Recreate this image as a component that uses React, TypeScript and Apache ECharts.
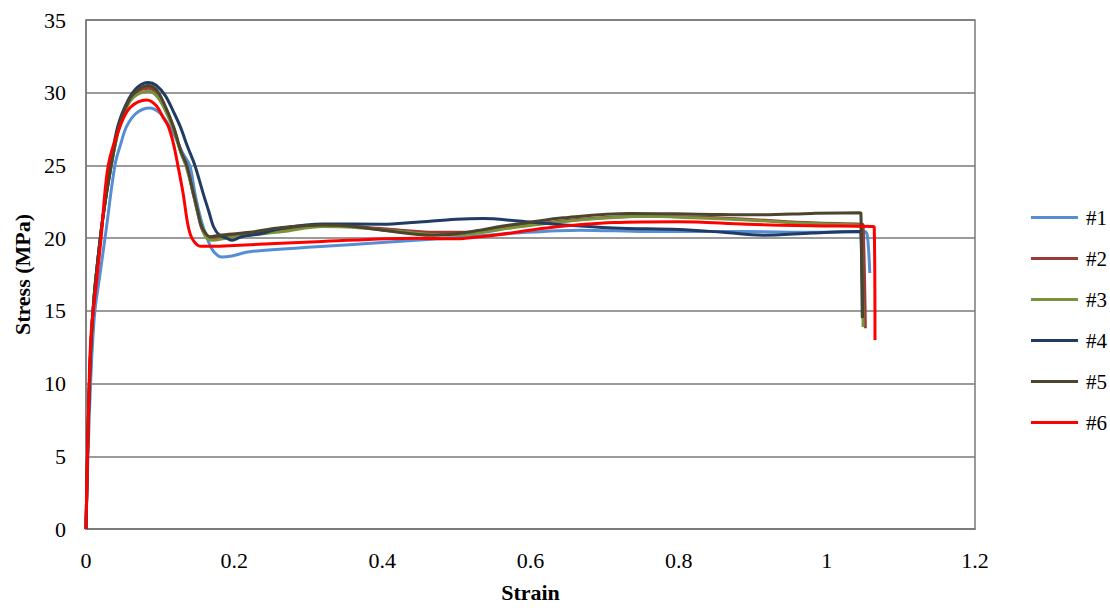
import React, { useEffect, useRef } from "react";
import * as echarts from "echarts";

// Stress–strain curves of six specimens: [strain, stress (MPa)]
const specimen1: [number, number][] = [
  [0, 0], [0.002, 4], [0.005, 8.5], [0.008, 12], [0.012, 15], [0.018, 17.2], [0.027, 20.5],
  [0.039, 25], [0.047, 26.5], [0.055, 27.7], [0.068, 28.6], [0.086, 28.95], [0.1, 28.6],
  [0.11, 27.9], [0.12, 27.0], [0.13, 25.9], [0.14, 25.0], [0.147, 23.1], [0.153, 21.7],
  [0.158, 20.8], [0.165, 19.8], [0.172, 19.1], [0.183, 18.7], [0.195, 18.75], [0.221, 19.07],
  [0.311, 19.4], [0.4, 19.7], [0.49, 20.0], [0.58, 20.35], [0.667, 20.55], [0.757, 20.45],
  [0.892, 20.45], [0.98, 20.4], [1.05, 20.45], [1.054, 20.3], [1.056, 19.5], [1.058, 17.6],
];

const specimen2: [number, number][] = [
  [0, 0], [0.002, 5], [0.004, 9], [0.007, 13], [0.011, 16], [0.016, 18.5], [0.023, 21.5],
  [0.034, 25], [0.045, 27.7], [0.058, 29.4], [0.07, 30.1], [0.084, 30.3], [0.095, 30.0],
  [0.105, 29.1], [0.118, 27.6], [0.128, 25.9], [0.136, 24.9], [0.145, 23.0], [0.151, 21.7],
  [0.156, 20.7], [0.162, 20.15], [0.168, 20.0], [0.19, 20.1], [0.221, 20.3], [0.266, 20.55],
  [0.32, 20.85], [0.36, 20.8], [0.424, 20.55], [0.47, 20.4], [0.52, 20.4], [0.58, 20.8],
  [0.667, 21.3], [0.757, 21.5], [0.82, 21.45], [0.892, 21.3], [0.98, 21.05], [1.047, 20.95],
  [1.049, 20.9], [1.052, 13.8],
];

const specimen3: [number, number][] = [
  [0, 0], [0.002, 5], [0.004, 9], [0.007, 13], [0.011, 16], [0.016, 18.5], [0.023, 21.5],
  [0.034, 25], [0.045, 27.6], [0.058, 29.3], [0.07, 29.9], [0.084, 30.1], [0.095, 29.8],
  [0.106, 28.9], [0.118, 27.5], [0.128, 25.9], [0.136, 24.8], [0.145, 23.0], [0.151, 21.7],
  [0.157, 20.6], [0.163, 20.0], [0.17, 19.85], [0.19, 20.0], [0.221, 20.2], [0.266, 20.45],
  [0.32, 20.8], [0.36, 20.75], [0.424, 20.45], [0.49, 20.2], [0.53, 20.35], [0.58, 20.75],
  [0.667, 21.25], [0.757, 21.5], [0.82, 21.4], [0.892, 21.25], [0.98, 21.0], [1.044, 20.9],
  [1.046, 20.85], [1.049, 13.9],
];

const specimen4: [number, number][] = [
  [0, 0], [0.002, 5], [0.004, 9], [0.007, 13], [0.011, 16], [0.016, 18.5], [0.023, 21.5],
  [0.033, 25], [0.043, 27.7], [0.057, 29.5], [0.07, 30.4], [0.084, 30.7], [0.095, 30.5],
  [0.107, 29.8], [0.118, 28.7], [0.127, 27.7], [0.137, 26.3], [0.147, 25], [0.158, 23.1],
  [0.166, 21.8], [0.172, 20.8], [0.18, 20.2], [0.19, 20.0], [0.197, 19.85], [0.21, 20.1],
  [0.235, 20.3], [0.266, 20.7], [0.32, 20.98], [0.4, 20.95], [0.446, 21.1], [0.5, 21.3],
  [0.536, 21.35], [0.58, 21.2], [0.622, 21.0], [0.712, 20.7], [0.8, 20.6], [0.86, 20.4],
  [0.914, 20.2], [0.98, 20.35], [1.044, 20.45], [1.046, 20.4], [1.048, 14.6],
];

const specimen5: [number, number][] = [
  [0, 0], [0.002, 5], [0.004, 9], [0.007, 13], [0.011, 16], [0.016, 18.5], [0.023, 21.5],
  [0.034, 25], [0.045, 27.8], [0.058, 29.5], [0.07, 30.2], [0.084, 30.5], [0.095, 30.2],
  [0.105, 29.3], [0.118, 27.7], [0.128, 26.0], [0.136, 25], [0.145, 23.1], [0.151, 21.8],
  [0.156, 20.8], [0.162, 20.3], [0.167, 20.1], [0.18, 20.2], [0.221, 20.4], [0.26, 20.7],
  [0.32, 20.9], [0.36, 20.8], [0.4, 20.55], [0.468, 20.2], [0.5, 20.3], [0.532, 20.55],
  [0.559, 20.8], [0.6, 21.1], [0.644, 21.4], [0.734, 21.7], [0.825, 21.65], [0.914, 21.6],
  [0.98, 21.7], [1.044, 21.75], [1.046, 21.7], [1.048, 14.5],
];

const specimen6: [number, number][] = [
  [0, 0], [0.002, 5], [0.004, 9.5], [0.007, 13.5], [0.0144, 17.1], [0.02, 19.8], [0.03, 25],
  [0.046, 27.7], [0.06, 29.0], [0.082, 29.5], [0.095, 29.1], [0.104, 28.3], [0.111, 27.7],
  [0.118, 26.5], [0.124, 25], [0.131, 23.1], [0.138, 20.8], [0.144, 19.9], [0.154, 19.45],
  [0.17, 19.45], [0.2, 19.5], [0.311, 19.75], [0.446, 20.0], [0.5, 19.95], [0.532, 20.1],
  [0.559, 20.25], [0.622, 20.7], [0.712, 21.07], [0.8, 21.13], [0.892, 20.95], [0.98, 20.85],
  [1.062, 20.8], [1.064, 20.75], [1.065, 13.0],
];

const seriesNames = ["#1", "#2", "#3", "#4", "#5", "#6"];
const seriesData = [specimen1, specimen2, specimen3, specimen4, specimen5, specimen6];
const seriesColors = ["#558ED5", "#9B3B38", "#77933C", "#1F3B66", "#4A452C", "#FF0000"];

const strainTicks = [0, 0.2, 0.4, 0.6, 0.8, 1, 1.2];
const stressTicks = [0, 5, 10, 15, 20, 25, 30, 35];

const FONT = "Liberation Serif";
const GRID_COLOR = "#7a7a7a";

export default function App() {
  const ref = useRef<HTMLDivElement>(null);

  useEffect(() => {
    document.body.style.margin = "0";
    if (!ref.current) return;
    const chart = echarts.init(ref.current, undefined, { renderer: "svg" });
    chart.setOption({
      animation: false,
      backgroundColor: "#ffffff",
      textStyle: { fontFamily: FONT },
      grid: {
        left: 86,
        top: 20,
        right: 135,
        bottom: 84,
        show: true,
        borderColor: GRID_COLOR,
        borderWidth: 1.5,
        backgroundColor: "transparent",
      },
      legend: {
        orient: "vertical",
        left: 1026,
        top: 202,
        itemWidth: 47,
        itemHeight: 3,
        itemGap: 20,
        icon: "rect",
        data: seriesNames,
        textStyle: { fontFamily: FONT, fontSize: 21, color: "#000", padding: [0, 0, 0, 3] },
      },
      xAxis: {
        type: "value",
        min: strainTicks[0],
        max: strainTicks[strainTicks.length - 1],
        interval: 0.2,
        name: "Strain",
        nameLocation: "middle",
        nameGap: 52,
        nameTextStyle: { fontFamily: FONT, fontSize: 22, fontWeight: "bold", color: "#000" },
        axisLine: { show: true, lineStyle: { color: GRID_COLOR, width: 1.5 } },
        axisTick: { show: false },
        splitLine: { show: false },
        axisLabel: {
          margin: 20,
          fontFamily: FONT,
          fontSize: 22,
          color: "#000",
          formatter: (v: number) => String(parseFloat(v.toFixed(1))),
        },
      },
      yAxis: {
        type: "value",
        min: stressTicks[0],
        max: stressTicks[stressTicks.length - 1],
        interval: 5,
        name: "Stress (MPa)",
        nameLocation: "middle",
        nameGap: 52,
        nameTextStyle: { fontFamily: FONT, fontSize: 22, fontWeight: "bold", color: "#000" },
        axisLine: { show: true, lineStyle: { color: GRID_COLOR, width: 1.5 } },
        axisTick: { show: false },
        splitLine: { show: true, lineStyle: { color: GRID_COLOR, width: 1.5 } },
        axisLabel: { margin: 20, fontFamily: FONT, fontSize: 22, color: "#000" },
      },
      series: seriesNames.map((name, i) => ({
        name,
        type: "line",
        data: seriesData[i],
        showSymbol: false,
        symbol: "none",
        smooth: 0.35,
        color: seriesColors[i],
        lineStyle: { width: 3, color: seriesColors[i], join: "round" },
      })),
    });
    return () => chart.dispose();
  }, []);

  return <div ref={ref} style={{ width: 1110, height: 613 }} />;
}
